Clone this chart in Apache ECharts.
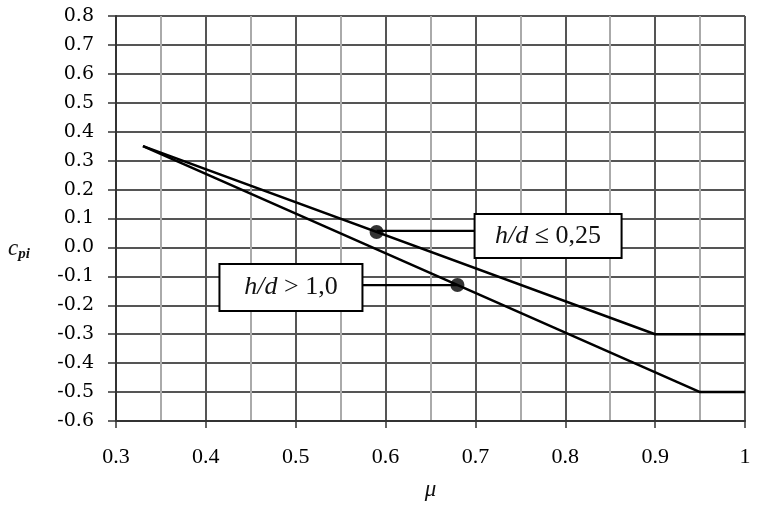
<!DOCTYPE html>
<html>
<head>
<meta charset="utf-8">
<script src="https://cdn.jsdelivr.net/npm/echarts@6/dist/echarts.min.js"></script>
<style>html,body{margin:0;padding:0;background:#fff}#c{width:761px;height:509px}</style>
</head>
<body>
<div id="c"></div>
<script>
// Data
const seriesNames = ['h/d ≤ 0,25', 'h/d > 1,0'];
const muLow = [0.33, 0.9, 1.0];
const cpiLow = [0.35, -0.3, -0.3];
const muHigh = [0.33, 0.95, 1.0];
const cpiHigh = [0.35, -0.5, -0.5];
const dotMu = [0.59, 0.68];
const dotCpi = [0.0535, -0.13];
const xTicks = ['0.3','0.4','0.5','0.6','0.7','0.8','0.9','1'];

const chart = echarts.init(document.getElementById('c'));
const serif = 'Liberation Serif';
const axisFont = 'DejaVu Serif';

function pairs(xs, ys){ return xs.map((x,i)=>[x, ys[i]]); }

chart.setOption({
  animation: false,
  backgroundColor: '#fff',
  grid: {left: 116, right: 16, top: 16, bottom: 88},
  xAxis: {
    type: 'value', min: 0.3, max: 1.0, interval: 0.1,
    axisLine: {show: true, onZero: false, lineStyle: {color: '#333', width: 2}},
    axisTick: {show: true, length: 7, lineStyle: {color: '#333', width: 1.5}},
    axisLabel: {color: '#000', fontFamily: serif, fontSize: 22, margin: 25,
      formatter: v => { const i = Math.round((v-0.3)/0.1); return xTicks[i] ?? ''; }},
    splitLine: {show: true, lineStyle: {color: '#555', width: 2}},
    minorTick: {show: false, splitNumber: 2},
    minorSplitLine: {show: true, lineStyle: {color: '#aaa', width: 2}},
    name: 'μ', nameLocation: 'middle', nameGap: 57,
    nameTextStyle: {fontFamily: serif, fontStyle: 'italic', fontSize: 23, color: '#111'}
  },
  yAxis: {
    type: 'value', min: -0.6, max: 0.8, interval: 0.1,
    axisLine: {show: true, onZero: false, lineStyle: {color: '#333', width: 2}},
    axisTick: {show: true, length: 8, lineStyle: {color: '#333', width: 1.5}},
    axisLabel: {color: '#000', fontFamily: axisFont, fontSize: 19, margin: 22,
      formatter: v => v.toFixed(1)},
    splitLine: {show: true, lineStyle: {color: '#555', width: 2}},
    name: '{c|c}{s|pi}', nameLocation: 'middle', nameGap: 86, nameRotate: 0,
    nameTextStyle: {padding: [60, 0, 0, 0], rich: {
      c: {fontFamily: serif, fontStyle: 'italic', fontSize: 23, color: '#111'},
      s: {fontFamily: serif, fontStyle: 'italic', fontWeight: 'bold', fontSize: 15, color: '#111', verticalAlign: 'bottom', padding: [12,0,0,0]}
    }}
  },
  series: [
    {name: seriesNames[0], type: 'line', data: pairs(muLow, cpiLow), symbol: 'none',
     lineStyle: {color: '#000', width: 2.5}, z: 5},
    {name: seriesNames[1], type: 'line', data: pairs(muHigh, cpiHigh), symbol: 'none',
     lineStyle: {color: '#000', width: 2.5}, z: 5},
    {type: 'scatter', data: pairs(dotMu, dotCpi), symbolSize: 14,
     itemStyle: {color: '#000'}, z: 10}
  ]
});

// Annotation boxes placed relative to the dots
const p1 = chart.convertToPixel({gridIndex: 0}, [dotMu[0], dotCpi[0]]);
const p2 = chart.convertToPixel({gridIndex: 0}, [dotMu[1], dotCpi[1]]);
const rich = {
  i: {fontFamily: serif, fontStyle: 'italic', fontSize: 26, fill: '#111'},
  n: {fontFamily: serif, fontSize: 26, fill: '#111'}
};
const b1 = {x: p1[0] + 98, y: p1[1] - 18, w: 147, h: 44};
const b2 = {x: p2[0] - 238, y: p2[1] - 21, w: 143, h: 47};
chart.setOption({
  graphic: [
    {type: 'line', shape: {x1: p1[0], y1: p1[1] - 1, x2: b1.x, y2: p1[1] - 1}, style: {stroke: '#000', lineWidth: 2.2}, z: 20},
    {type: 'rect', shape: {x: b1.x, y: b1.y, width: b1.w, height: b1.h}, style: {fill: '#fff', stroke: '#000', lineWidth: 2}, z: 20},
    {type: 'text', x: b1.x + b1.w/2, y: b1.y + b1.h/2, z: 21,
     style: {text: '{i|h/d}{n|\u00a0≤ 0,25}', rich: rich, align: 'center', verticalAlign: 'middle'}},
    {type: 'line', shape: {x1: b2.x + b2.w, y1: p2[1], x2: p2[0], y2: p2[1]}, style: {stroke: '#000', lineWidth: 2.2}, z: 20},
    {type: 'rect', shape: {x: b2.x, y: b2.y, width: b2.w, height: b2.h}, style: {fill: '#fff', stroke: '#000', lineWidth: 2}, z: 20},
    {type: 'text', x: b2.x + b2.w/2, y: b2.y + b2.h/2, z: 21,
     style: {text: '{i|h/d}{n|\u00a0> 1,0}', rich: rich, align: 'center', verticalAlign: 'middle'}}
  ]
});
</script>
</body>
</html>
